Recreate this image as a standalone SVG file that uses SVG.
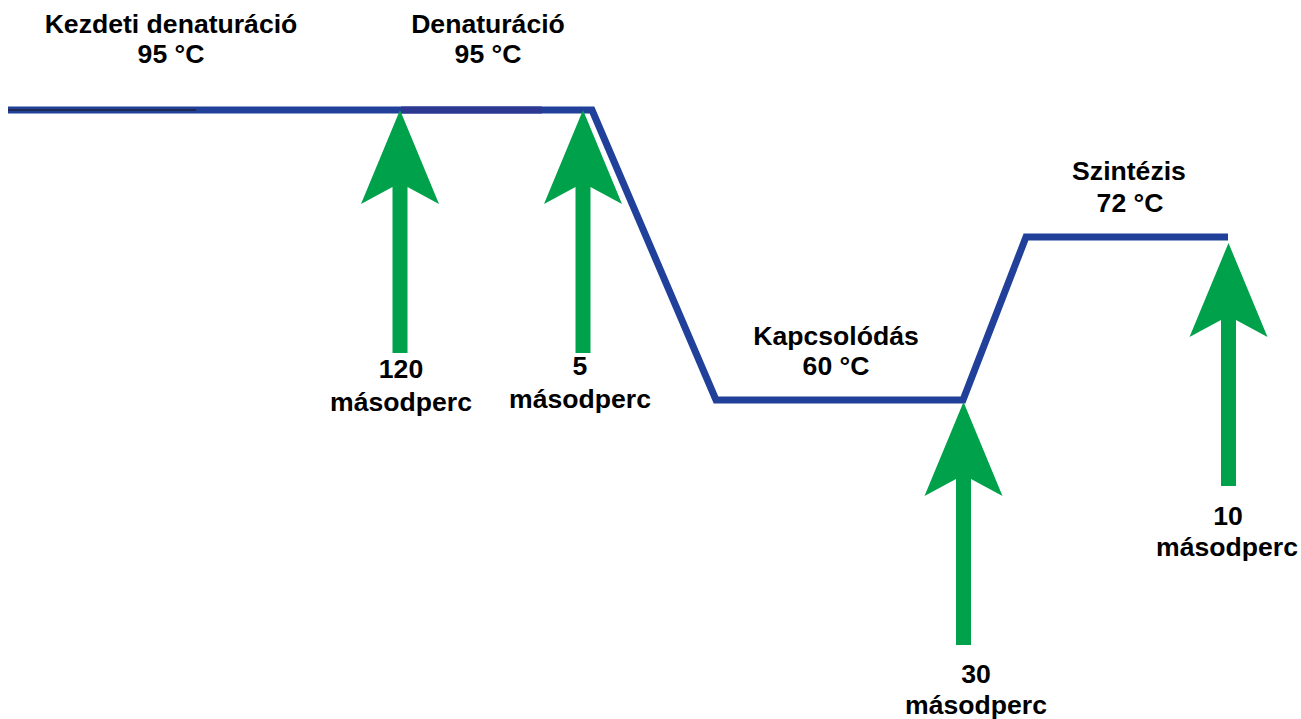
<svg xmlns="http://www.w3.org/2000/svg" xmlns:xlink="http://www.w3.org/1999/xlink" width="1301" height="719" viewBox="0 0 1301 719">
  <style>
    .lbl { font-family: "Liberation Sans", Arial, sans-serif; font-weight: bold; font-size: 26.6px; fill: #000; text-anchor: middle; }
    .temp { fill: none; stroke: #21409a; stroke-width: 7; stroke-linejoin: miter; }
    .arrow { fill: #00a14b; }
  </style>
  <defs>
    <path id="arr" d="M0,0 L39,94 L7.5,77 L7.5,243 L-7.5,243 L-7.5,77 L-39,94 Z"/>
  </defs>
  <rect width="1301" height="719" fill="#fff"/>

  <g id="connectors">
    <path class="temp" d="M8,110 H592 L716,400 H963 L1026,237 H1228"/>
    <line x1="401" y1="110" x2="542" y2="110" stroke="#2d3990" stroke-width="7"/>
    <line x1="8" y1="110" x2="196" y2="110" stroke="#1e2a50" stroke-width="1.8"/>
  </g>

  <g id="arrow-120">
    <use xlink:href="#arr" class="arrow" transform="translate(400,110)"/>
  </g>
  <g id="arrow-5">
    <use xlink:href="#arr" class="arrow" transform="translate(583,110)"/>
  </g>
  <g id="arrow-30">
    <use xlink:href="#arr" class="arrow" transform="translate(963.5,402)"/>
  </g>
  <g id="arrow-10">
    <use xlink:href="#arr" class="arrow" transform="translate(1228.5,243)"/>
  </g>

  <g id="label-kezdeti">
    <text class="lbl" x="171" y="33">Kezdeti denaturáció</text>
    <text class="lbl" x="171" y="63">95 °C</text>
  </g>
  <g id="label-denat">
    <text class="lbl" x="488" y="33">Denaturáció</text>
    <text class="lbl" x="488" y="63">95 °C</text>
  </g>
  <g id="label-kapcs">
    <text class="lbl" x="836" y="345">Kapcsolódás</text>
    <text class="lbl" x="836" y="375">60 °C</text>
  </g>
  <g id="label-szint">
    <text class="lbl" x="1129" y="180">Szintézis</text>
    <text class="lbl" x="1130" y="212">72 °C</text>
  </g>
  <g id="time-120">
    <text class="lbl" x="401" y="378">120</text>
    <text class="lbl" x="401" y="411">másodperc</text>
  </g>
  <g id="time-5">
    <text class="lbl" x="580" y="375">5</text>
    <text class="lbl" x="580" y="408">másodperc</text>
  </g>
  <g id="time-30">
    <text class="lbl" x="976" y="683">30</text>
    <text class="lbl" x="976" y="714">másodperc</text>
  </g>
  <g id="time-10">
    <text class="lbl" x="1228" y="525">10</text>
    <text class="lbl" x="1227" y="556">másodperc</text>
  </g>
</svg>
